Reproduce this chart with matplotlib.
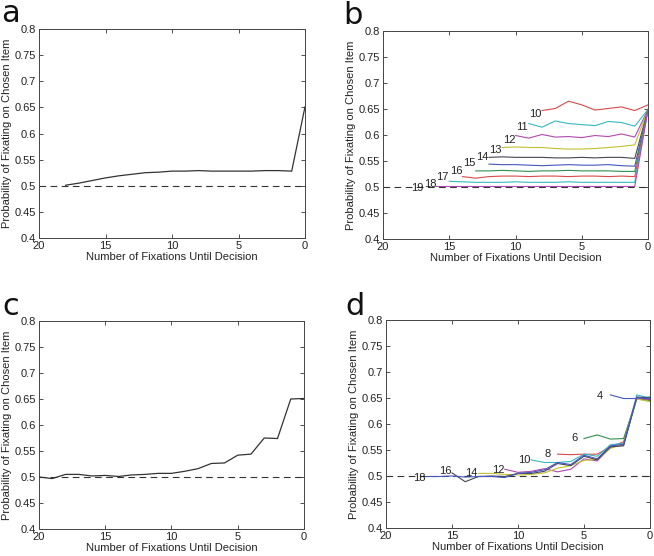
import matplotlib
matplotlib.use("Agg")
import matplotlib.pyplot as plt
import numpy as np

plt.rcParams['font.family'] = ['Liberation Sans', 'DejaVu Sans']

# ---------------- data ----------------
yticks = [0.4, 0.45, 0.5, 0.55, 0.6, 0.65, 0.7, 0.75, 0.8]
ytick_labels = ['0.4', '0.45', '0.5', '0.55', '0.6', '0.65', '0.7', '0.75', '0.8']
xticks = [20, 15, 10, 5, 0]
xtick_labels = ['20', '15', '10', '5', '0']
chance = 0.5

# panel a: x from 18 down to 0
a_start = 18
a_vals = [0.501, 0.505, 0.510, 0.515, 0.519, 0.522, 0.525, 0.526, 0.528, 0.528,
          0.529, 0.528, 0.528, 0.528, 0.528, 0.529, 0.529, 0.528, 0.651]

# panel c: x from 20 down to 0
c_start = 20
c_vals = [0.500, 0.497, 0.505, 0.505, 0.502, 0.503, 0.501, 0.504, 0.505, 0.507,
          0.507, 0.511, 0.516, 0.526, 0.527, 0.542, 0.544, 0.575, 0.574, 0.650, 0.651]

# panel b: lines by number of fixations in trial
b_counts = [10, 11, 12, 13, 14, 15, 16, 17, 18, 19]
b_starts = [8, 9, 10, 11, 12, 12, 13, 14, 15, 16]
b_vals_10 = [0.647, 0.651, 0.665, 0.658, 0.648, 0.651, 0.654, 0.647, 0.658]
b_vals_11 = [0.622, 0.615, 0.627, 0.622, 0.620, 0.618, 0.626, 0.624, 0.617, 0.649]
b_vals_12 = [0.599, 0.594, 0.601, 0.596, 0.597, 0.595, 0.599, 0.597, 0.602, 0.596, 0.649]
b_vals_13 = [0.576, 0.577, 0.576, 0.576, 0.574, 0.573, 0.573, 0.574, 0.576, 0.578, 0.581, 0.649]
b_vals_14 = [0.557, 0.558, 0.557, 0.557, 0.557, 0.556, 0.556, 0.557, 0.556, 0.557, 0.557, 0.555, 0.649]
b_vals_15 = [0.544, 0.543, 0.543, 0.542, 0.541, 0.542, 0.543, 0.542, 0.542, 0.543, 0.541, 0.540, 0.649]
b_vals_16 = [0.531, 0.531, 0.532, 0.531, 0.530, 0.531, 0.531, 0.532, 0.531, 0.531, 0.531, 0.530, 0.530, 0.649]
b_vals_17 = [0.520, 0.517, 0.520, 0.521, 0.521, 0.520, 0.521, 0.521, 0.520, 0.521, 0.521, 0.520,
             0.521, 0.520, 0.649]
b_vals_18 = [0.511, 0.510, 0.509, 0.509, 0.509, 0.510, 0.509, 0.509, 0.509, 0.510, 0.509, 0.509,
             0.509, 0.509, 0.509, 0.649]
b_vals_19 = [0.501, 0.501, 0.501, 0.501, 0.501, 0.501, 0.501, 0.501, 0.501, 0.501, 0.501, 0.501,
             0.501, 0.501, 0.501, 0.501, 0.649]
b_label_x = [8.5, 9.5, 10.5, 11.5, 12.5, 13.5, 14.5, 15.5, 16.45, 17.45]
b_label_y = [0.640, 0.615, 0.590, 0.572, 0.558, 0.5455, 0.531, 0.519, 0.505, 0.4975]

# panel d: lines by number of fixations in trial
d_counts = [4, 6, 8, 10, 12, 14, 16, 18]
d_starts = [3, 5, 7, 9, 11, 13, 15, 17]
d_vals_4 = [0.656, 0.649, 0.649, 0.652]
d_vals_6 = [0.572, 0.579, 0.571, 0.572, 0.649, 0.645]
d_vals_8 = [0.542, 0.541, 0.542, 0.542, 0.556, 0.566, 0.649, 0.648]
d_vals_10 = [0.531, 0.526, 0.526, 0.528, 0.542, 0.538, 0.560, 0.563, 0.656, 0.650]
d_vals_12 = [0.513, 0.507, 0.509, 0.514, 0.508, 0.513, 0.533, 0.529, 0.555, 0.560, 0.650, 0.647]
d_vals_14 = [0.505, 0.505, 0.503, 0.502, 0.503, 0.506, 0.515, 0.520, 0.530, 0.532, 0.553, 0.562,
             0.648, 0.643]
d_vals_16 = [0.506, 0.489, 0.499, 0.500, 0.499, 0.505, 0.505, 0.509, 0.524, 0.520, 0.538, 0.531,
             0.556, 0.558, 0.652, 0.650]
d_vals_18 = [0.499, 0.499, 0.500, 0.498, 0.499, 0.499, 0.497, 0.505, 0.507, 0.512, 0.526, 0.522,
             0.540, 0.533, 0.558, 0.561, 0.651, 0.648]
d_label_x = [3.8, 5.75, 7.75, 9.5, 11.5, 13.55, 15.5, 17.5]
d_label_y = [0.654, 0.5725, 0.542, 0.531, 0.5115, 0.505, 0.5096, 0.4968]

b_series = [b_vals_10, b_vals_11, b_vals_12, b_vals_13, b_vals_14,
            b_vals_15, b_vals_16, b_vals_17, b_vals_18, b_vals_19]
d_series = [d_vals_4, d_vals_6, d_vals_8, d_vals_10, d_vals_12,
            d_vals_14, d_vals_16, d_vals_18]

# MATLAB-like color order (slightly muted, as in the scanned figure)
color_order = ['#4456c0', '#2f9050', '#d94a4a', '#35b8c0', '#b048b0', '#c2c030', '#454555']

# ---------------- figure ----------------
fig = plt.figure(figsize=(6.54, 5.56), dpi=100)
positions = {
    'a': [39/654, 1-238/556, 266/654, 209/556],
    'b': [383/654, 1-239/556, 265/654, 208/556],
    'c': [39/654, 1-529/556, 265/654, 208/556],
    'd': [386/654, 1-528/556, 264/654, 208/556],
}
letter_pos = {'a': (1/654, 1-22/556), 'b': (343/654, 1-24/556),
              'c': (2/654, 1-315/556), 'd': (345/654, 1-315/556)}

TXT = '#222222'


def style(ax):
    ax.set_xlim(20, 0)
    ax.set_ylim(0.4, 0.8)
    ax.set_xticks(xticks)
    ax.set_xticklabels(xtick_labels)
    ax.set_yticks(yticks)
    ax.set_yticklabels(ytick_labels)
    ax.tick_params(direction='in', length=3, width=0.6, top=True, right=True,
                   labelsize=8, colors='#333333', labelcolor=TXT, pad=2)
    for s in ax.spines.values():
        s.set_linewidth(0.7)
        s.set_color('#444444')
    ax.set_xlabel('Number of Fixations Until Decision', fontsize=8, color=TXT, labelpad=1)
    ax.set_ylabel('Probability of Fixating on Chosen Item', fontsize=8, color=TXT, labelpad=2)
    ax.axhline(chance, color='#333333', lw=0.8, linestyle=(0, (6, 4)), zorder=1)


axes = {}
for k in ['a', 'b', 'c', 'd']:
    ax = fig.add_axes(positions[k])
    style(ax)
    axes[k] = ax
    fig.text(letter_pos[k][0], letter_pos[k][1], k, fontsize=22,
             family='DejaVu Sans', color='#111111', ha='left', va='baseline')

# panel a
xa = np.arange(a_start, -1, -1)
axes['a'].plot(xa, a_vals, color='#333333', lw=0.9, zorder=3)

# panel c
xc = np.arange(c_start, -1, -1)
axes['c'].plot(xc, c_vals, color='#333333', lw=0.9, zorder=3)

# panel b
for n, st, vals, lx, ly in zip(b_counts, b_starts, b_series, b_label_x, b_label_y):
    x = np.arange(st, -1, -1)
    col = color_order[(n - 1) % 7]
    axes['b'].plot(x, vals, color=col, lw=0.8, zorder=3)
    axes['b'].text(lx, ly, str(n), fontsize=8, color=TXT, ha='center', va='center')

# panel d
for i, (n, st, vals, lx, ly) in enumerate(zip(d_counts, d_starts, d_series, d_label_x, d_label_y)):
    x = np.arange(st, -1, -1)
    col = color_order[i % 7]
    axes['d'].plot(x, vals, color=col, lw=0.8, zorder=3)
    axes['d'].text(lx, ly, str(n), fontsize=8, color=TXT, ha='center', va='center')

fig.savefig('out.png', dpi=100)
